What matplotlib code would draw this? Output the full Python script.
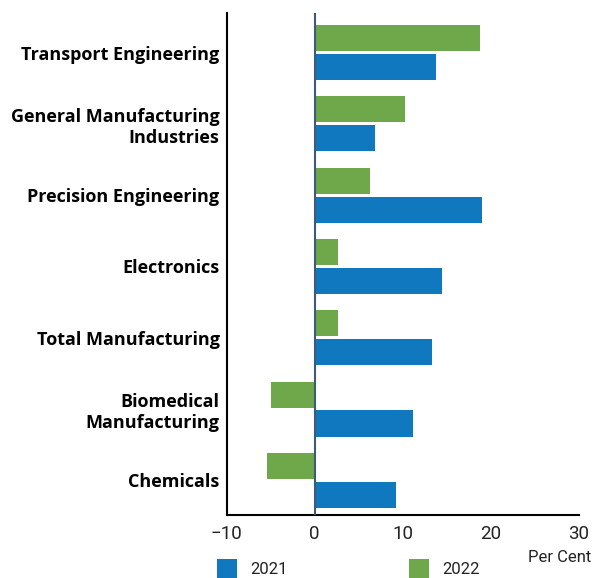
import numpy as np
import matplotlib
matplotlib.use("Agg")
import matplotlib.pyplot as plt

categories = [
    "Transport Engineering",
    "General Manufacturing\nIndustries",
    "Precision Engineering",
    "Electronics",
    "Total Manufacturing",
    "Biomedical\nManufacturing",
    "Chemicals",
]
values_2021 = [13.8, 6.8, 19.0, 14.5, 13.3, 11.2, 9.2]
values_2022 = [18.8, 10.2, 6.3, 2.6, 2.6, -5.0, -5.4]

blue = "#1078be"
green = "#6ea84a"

plt.rcParams["font.family"] = ["Roboto", "DejaVu Sans"]

fig = plt.figure(figsize=(6.06, 5.78), dpi=100)
ax = fig.add_axes([0.3738, 0.109, 0.5816, 0.8685])

y = np.arange(len(categories))
h = 0.366
off = 0.203
b21 = ax.barh(y + off, values_2021, height=h, color=blue, label="2021")
b22 = ax.barh(y - off, values_2022, height=h, color=green, label="2022")

ax.axvline(0, color="#3d5a7a", lw=1.5, zorder=3)

ax.set_xlim(-10, 30)
ax.set_xticks([-10, 0, 10, 20, 30])
ax.set_ylim(len(categories) - 1 + 0.486, -0.556)
ax.set_yticks(y)
ax.set_yticklabels(categories, fontsize=13, fontweight="bold", linespacing=1.2,
                   family=["Open Sans", "DejaVu Sans"])

ax.tick_params(axis="y", length=0, pad=5)
ax.tick_params(axis="x", length=0, pad=7, labelsize=13.5, colors="#222222")
ax.xaxis.set_major_formatter(matplotlib.ticker.FuncFormatter(lambda v, p: f"{v:.0f}".replace("-", "\u2212")))

for s in ["top", "right"]:
    ax.spines[s].set_visible(False)
ax.spines["left"].set_color("black")
ax.spines["left"].set_linewidth(1.5)
ax.spines["bottom"].set_color("black")
ax.spines["bottom"].set_linewidth(1.5)

fig.legend(handles=[b21, b22], loc="lower left", bbox_to_anchor=(217 / 606, 0.0),
           ncol=2, frameon=False, fontsize=12, handlelength=1.2, handleheight=1.4,
           handletextpad=0.8, columnspacing=7.3, borderpad=0, borderaxespad=0,
           labelcolor="#222222")

fig.text(528 / 606, 1 - 557 / 578, "Per Cent", fontsize=12, color="#222222",
         ha="left", va="center")

fig.savefig("out.png", dpi=100)
